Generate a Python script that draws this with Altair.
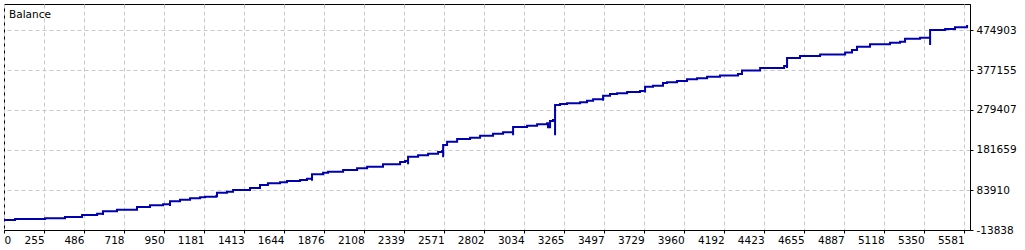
import altair as alt
import pandas as pd

# Balance curve (trade index, balance)
trade_idx = [23, 87, 261, 376, 475, 562, 596, 596, 596, 677, 793, 868, 944,
             984, 984, 984, 1042, 1100, 1158, 1187, 1250, 1256, 1314, 1349,
             1447, 1505, 1551, 1621, 1661, 1737, 1777, 1806, 1806, 1806, 1870,
             1899, 1986, 2067, 2125, 2217, 2316, 2345, 2362, 2362, 2362, 2420,
             2478, 2536, 2559, 2565, 2565, 2565, 2588, 2646, 2721, 2779, 2854,
             2912, 2970, 2970, 2970, 3051, 3109, 3167, 3172, 3172, 3184, 3201,
             3213, 3213, 3213, 3242, 3282, 3358, 3398, 3433, 3491, 3491, 3491,
             3531, 3572, 3630, 3705, 3734, 3734, 3734, 3780, 3838, 3838, 3838,
             3861, 3919, 3977, 4035, 4093, 4168, 4272, 4295, 4400, 4539, 4556,
             4556, 4556, 4631, 4747, 4892, 4932, 4961, 5036, 5152, 5210, 5239,
             5326, 5384, 5384, 5384, 5471, 5528, 5598]
balance = [10600, 13043, 14753, 17930, 22818, 25994, 25994, 22818, 31859, 35769,
           42367, 46521, 48965, 49500, 44811, 56296, 60206, 63627, 66071, 67537,
           68500, 77312, 79756, 83910, 88797, 96129, 100283, 102726, 105903,
           108347, 111524, 111524, 106636, 122276, 126186, 128630, 132784,
           136938, 140848, 146713, 152334, 154777, 155500, 146713, 165285,
           168706, 172616, 176771, 179214, 179214, 163819, 193877, 201941,
           208539, 211716, 216603, 221490, 224911, 225500, 217580, 237863,
           241040, 244461, 246905, 246905, 237130, 252525, 254969, 254969,
           217580, 291624, 294068, 295779, 298222, 302132, 305554, 307997,
           302132, 314000, 318505, 320216, 323393, 325836, 325836, 322000,
           336344, 338788, 344653, 338000, 345500, 347096, 350273, 354428,
           356871, 360781, 363714, 367379, 375932, 382041, 386929, 386929,
           382041, 406478, 411366, 415031, 419919, 426028, 434092, 439957,
           443867, 446311, 453642, 456086, 458529, 438247, 474902, 477346,
           481500, 487121]

x_tick_labels = [0, 255, 486, 718, 950, 1181, 1413, 1644, 1876, 2108, 2339, 2571,
                 2802, 3034, 3265, 3497, 3729, 3960, 4192, 4423, 4655, 4887, 5118,
                 5350, 5581]
y_tick_values = [-13838, 83910, 181659, 279407, 377155, 474903]
x_domain = [23, 5615]
y_domain = [-13838, 538440]
title_text = ["Balance"]

# first label ("0") sits at the left edge of the window
x_tick_values = [x_domain[0]] + x_tick_labels[1:]

df = pd.DataFrame({"seq": list(range(len(trade_idx))), "i": trade_idx, "b": balance})

FONT = "DejaVu Sans"

line = alt.Chart(df).mark_line(color="#0000b0", strokeWidth=2, clip=True,
                               interpolate="step-after").encode(
    x=alt.X("i:Q",
            scale=alt.Scale(domain=x_domain, nice=False, zero=False),
            axis=alt.Axis(values=x_tick_values, title=None, grid=True,
                          labelExpr=f"datum.value == {x_domain[0]} ? '0' : '' + datum.value",
                          labelAlign={"condition": {"test": f"datum.value == {x_domain[0]}", "value": "left"},
                                      "value": "right"},
                          labelPadding=2, tickSize=3, labelFlush=False,
                          labelOverlap=False)),
    y=alt.Y("b:Q",
            scale=alt.Scale(domain=y_domain, nice=False, zero=False),
            axis=alt.Axis(orient="right", values=y_tick_values, title=None, grid=True,
                          labelExpr="'' + datum.value", labelAlign="left",
                          labelBaseline="middle", labelPadding=3, tickSize=3,
                          labelFlush=False, labelOverlap=False)),
    order="seq:Q",
)

label = alt.Chart(pd.DataFrame({"t": title_text})).mark_text(
    align="left", baseline="alphabetic", font=FONT, fontSize=10.5, color="#000000"
).encode(text="t:N", x=alt.value(5), y=alt.value(14))

chart = alt.layer(line, label).properties(
    width=966, height=226,
    autosize=alt.AutoSizeParams(type="none"),
    padding={"left": 4, "top": 4, "right": 55, "bottom": 20},
    background="white",
).configure_view(
    stroke="#000000", strokeWidth=1
).configure_axis(
    domainColor="#000000", domainWidth=1, tickColor="#000000", tickWidth=1,
    gridColor="#c8c8c8", gridDash=[4, 3], gridWidth=1,
    labelFont=FONT, labelFontSize=10.5, labelColor="#000000",
)

chart.save("out.html", embed_options={"renderer": "svg", "actions": False})
